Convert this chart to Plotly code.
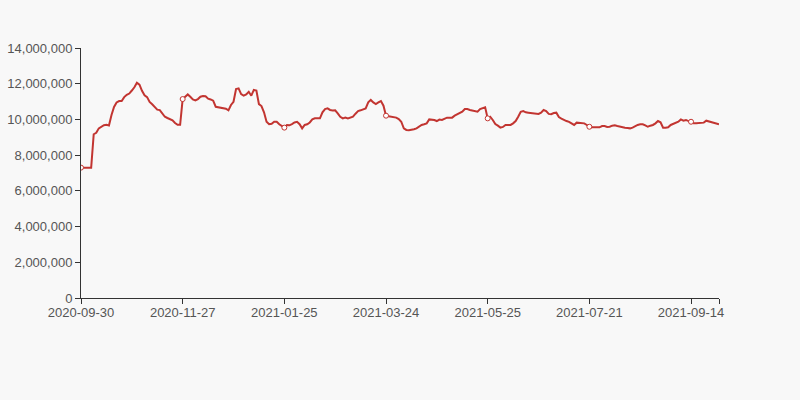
import plotly.graph_objects as go

# tick labels on the category axis (every 40th category)
tick_labels = ["2020-09-30", "2020-11-27", "2021-01-25", "2021-03-24",
               "2021-05-25", "2021-07-21", "2021-09-14"]
label_step = 40

# series values in millions, one per category (252 categories)
values_m = [
    7.30, 7.30, 7.30, 7.30, 7.30, 9.17, 9.25, 9.50, 9.60, 9.68,
    9.70, 9.66, 10.25, 10.70, 10.95, 11.03, 11.03, 11.25, 11.38, 11.45,
    11.62, 11.80, 12.05, 11.95, 11.60, 11.35, 11.25, 10.98, 10.85, 10.70,
    10.55, 10.52, 10.35, 10.15, 10.08, 10.02, 9.95, 9.80, 9.70, 9.70,
    11.14, 11.27, 11.40, 11.27, 11.12, 11.07, 11.14, 11.27, 11.31, 11.30,
    11.16, 11.12, 11.05, 10.71, 10.68, 10.64, 10.62, 10.60, 10.51, 10.81,
    10.99, 11.70, 11.74, 11.42, 11.33, 11.40, 11.55, 11.33, 11.65, 11.62,
    10.86, 10.75, 10.40, 9.87, 9.73, 9.76, 9.87, 9.87, 9.73, 9.63,
    9.54, 9.69, 9.67, 9.74, 9.83, 9.87, 9.73, 9.50, 9.69, 9.73,
    9.83, 10.00, 10.06, 10.06, 10.06, 10.40, 10.58, 10.62, 10.53, 10.50,
    10.51, 10.34, 10.15, 10.06, 10.10, 10.06, 10.10, 10.15, 10.32, 10.47,
    10.51, 10.55, 10.62, 10.96, 11.09, 10.95, 10.86, 10.95, 11.03, 10.77,
    10.21, 10.18, 10.15, 10.14, 10.10, 10.02, 9.87, 9.50, 9.41, 9.39,
    9.41, 9.45, 9.50, 9.59, 9.69, 9.73, 9.78, 10.00, 9.99, 9.97,
    9.91, 9.99, 9.97, 10.06, 10.10, 10.10, 10.10, 10.21, 10.29, 10.34,
    10.43, 10.58, 10.58, 10.53, 10.51, 10.47, 10.43, 10.58, 10.65, 10.68,
    10.06, 10.15, 9.97, 9.74, 9.65, 9.54, 9.58, 9.69, 9.69, 9.69,
    9.78, 9.91, 10.15, 10.43, 10.47, 10.40, 10.38, 10.36, 10.36, 10.32,
    10.31, 10.38, 10.53, 10.47, 10.31, 10.29, 10.36, 10.38, 10.13, 10.05,
    9.97, 9.91, 9.86, 9.78, 9.69, 9.82, 9.82, 9.78, 9.78, 9.69,
    9.59, 9.56, 9.56, 9.56, 9.56, 9.63, 9.63, 9.58, 9.59, 9.65,
    9.67, 9.63, 9.59, 9.56, 9.54, 9.52, 9.50, 9.54, 9.63, 9.69,
    9.73, 9.73, 9.67, 9.59, 9.65, 9.69, 9.78, 9.91, 9.84, 9.54,
    9.54, 9.56, 9.69, 9.74, 9.80, 9.87, 10.00, 9.93, 9.97, 9.91,
    9.87, 9.78, 9.78, 9.78, 9.78, 9.82, 9.93, 9.89, 9.87, 9.84,
    9.78, 9.73,
]

values = [v * 1_000_000 for v in values_m]
x_idx = list(range(len(values)))
tick_idx = [i * label_step for i in range(len(tick_labels))]
marker_vals = [values[i] for i in tick_idx]

RED = "#c23531"
AX = "#333333"
TXT = "#555555"

fig = go.Figure()
fig.add_trace(go.Scatter(
    x=x_idx, y=values, mode="lines",
    line=dict(color=RED, width=2, shape="linear"),
    hoverinfo="skip", showlegend=False,
))
fig.add_trace(go.Scatter(
    x=tick_idx, y=marker_vals, mode="markers",
    marker=dict(symbol="circle", size=5, color="#ffffff",
                line=dict(color=RED, width=1)),
    showlegend=False, hoverinfo="skip",
))

fig.update_layout(
    width=800, height=400,
    margin=dict(l=81, r=81, t=48, b=102, autoexpand=False),
    paper_bgcolor="#f8f8f8", plot_bgcolor="#f8f8f8",
    font=dict(family="Liberation Sans, Arial, sans-serif", size=13, color=TXT),
)
fig.update_xaxes(
    range=[0, len(values) - 1],
    tickmode="array",
    tickvals=tick_idx + [len(values) - 1],
    ticktext=tick_labels + [""],
    showgrid=False, zeroline=False, automargin=False,
    showline=True, linecolor=AX, linewidth=1,
    ticks="outside", ticklen=5, tickcolor=AX,
    tickfont=dict(size=13, color=TXT),
    ticklabelstandoff=-3,
)
fig.update_yaxes(
    range=[0, 14_000_000], dtick=2_000_000, tick0=0,
    tickformat=",d",
    showgrid=False, zeroline=False, automargin=False,
    showline=True, linecolor=AX, linewidth=1,
    ticks="outside", ticklen=5, tickcolor=AX,
    tickfont=dict(size=13, color=TXT),
)

fig.write_html("out.html")
